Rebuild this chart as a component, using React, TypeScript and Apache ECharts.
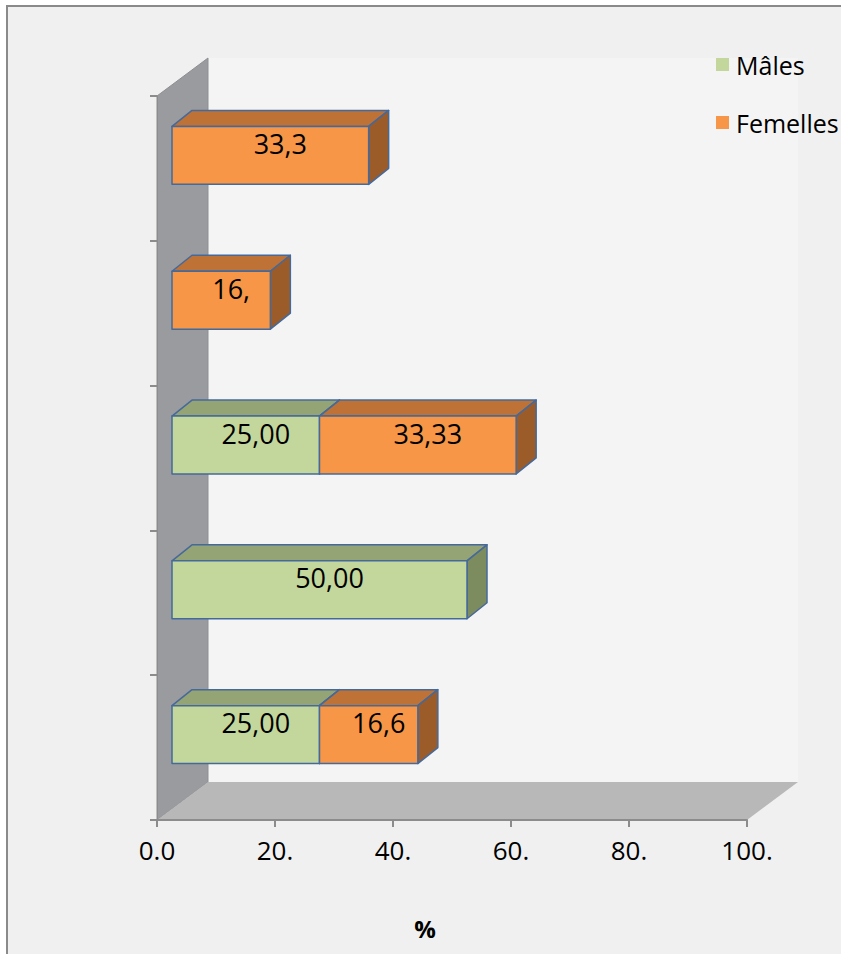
import React, { useEffect, useRef } from "react";
import * as echarts from "echarts";

// Classes d'âge (bas vers haut) et pourcentages par sexe
const categories = ["Classe 1", "Classe 2", "Classe 3", "Classe 4", "Classe 5"];
const males = [25, 50, 25, 0, 0];
const femelles = [16.67, 0, 33.33, 16.67, 33.33];
const malesLabels = ["25,00", "50,00", "25,00", "", ""];
const femellesLabels = ["16,6", "", "33,33", "16,", "33,3"];
const xTickLabels = ["0.0", "20.", "40.", "60.", "80.", "100."];

const FONT = "'Open Sans', 'Noto Sans', sans-serif";
const BG = "#f0f0f0";

// 3D look: bars sit slightly behind the front plane, the wall/floor go deeper
const BAR_SHIFT = [15, -13];
const BAR_DEPTH = [20, -16];
const WALL_DEPTH = [51, -38];

const palette = {
  males: { front: "#c3d69b", top: "#95a474", side: "#7d8c5e" },
  femelles: { front: "#f79646", top: "#bf7236", side: "#9b5c2a" },
  edge: "#45699a",
};

function boxRenderer(colors: { front: string; top: string; side: string }, labels: string[]) {
  return (params: any, api: any) => {
    const start = api.value(0);
    const end = api.value(1);
    const cat = api.value(2);
    if (end - start <= 0) return null;
    const p0 = api.coord([start, cat]);
    const p1 = api.coord([end, cat]);
    const band = api.size([0, 1])[1];
    const hh = band * 0.2;
    const x0 = p0[0] + BAR_SHIFT[0];
    const x1 = p1[0] + BAR_SHIFT[0];
    const yc = p0[1] + BAR_SHIFT[1];
    const [dx, dy] = BAR_DEPTH;
    const top = yc - hh;
    const bot = yc + hh;
    const edge = { stroke: palette.edge, lineWidth: 1.5, lineJoin: "round" };
    const children: any[] = [
      {
        type: "polygon",
        shape: { points: [[x0, top], [x0 + dx, top + dy], [x1 + dx, top + dy], [x1, top]] },
        style: { fill: colors.top, ...edge },
      },
      {
        type: "polygon",
        shape: { points: [[x1, top], [x1 + dx, top + dy], [x1 + dx, bot + dy], [x1, bot]] },
        style: { fill: colors.side, ...edge },
      },
      {
        type: "rect",
        shape: { x: x0, y: top, width: x1 - x0, height: bot - top },
        style: { fill: colors.front, ...edge },
      },
    ];
    const text = labels[params.dataIndex];
    if (text) {
      children.push({
        type: "text",
        x: (x0 + x1) / 2 + dx / 2,
        y: yc - 12,
        style: {
          text,
          fill: "#000",
          fontSize: 27,
          fontFamily: FONT,
          align: "center",
          verticalAlign: "middle",
        },
      });
    }
    return { type: "group", children };
  };
}

function wallRenderer(params: any) {
  const cs = params.coordSys;
  const { x, y, width: w, height: h } = cs;
  const [dx, dy] = WALL_DEPTH;
  return {
    type: "group",
    children: [
      {
        type: "rect",
        shape: { x: x + dx, y: y + dy, width: w, height: h },
        style: { fill: "#f4f4f4" },
      },
      {
        type: "polygon",
        shape: { points: [[x, y], [x + dx, y + dy], [x + dx, y + h + dy], [x, y + h]] },
        style: { fill: "#9a9b9f", stroke: "#8e8f93", lineWidth: 1 },
      },
      {
        type: "polygon",
        shape: { points: [[x, y + h], [x + w, y + h], [x + w + dx, y + h + dy], [x + dx, y + h + dy]] },
        style: { fill: "#b8b8b8" },
      },
    ],
  };
}

export default function App() {
  const ref = useRef<HTMLDivElement>(null);

  useEffect(() => {
    document.body.style.margin = "0";
    if (!ref.current) return;
    const chart = echarts.init(ref.current, undefined, { renderer: "svg" });

    const maleData = males.map((v, i) => [0, v, i]);
    const femData = femelles.map((v, i) => [males[i], males[i] + v, i]);

    chart.setOption({
      animation: false,
      backgroundColor: "#ffffff",
      graphic: [
        {
          type: "rect",
          z: -10,
          shape: { x: 7, y: 6, width: 2000, height: 2000 },
          style: { fill: BG, stroke: "#8a8a8a", lineWidth: 2 },
        },
      ],
      legend: {
        orient: "vertical",
        left: 711,
        top: 47,
        itemWidth: 13,
        itemHeight: 13,
        itemGap: 33,
        icon: "rect",
        data: ["Mâles", "Femelles"],
        textStyle: { fontSize: 25, fontFamily: FONT, color: "#000", padding: [0, 0, 0, 2] },
      },
      grid: { left: 157, top: 96, width: 590, height: 724 },
      xAxis: {
        type: "value",
        min: 0,
        max: 100,
        interval: 20,
        z: 10,
        axisLine: { show: true, lineStyle: { color: "#8c8c8c", width: 2 } },
        axisTick: { show: true, length: 7, lineStyle: { color: "#8c8c8c", width: 2 } },
        splitLine: { show: false },
        axisLabel: {
          color: "#000",
          fontSize: 26,
          fontFamily: FONT,
          margin: 17,
          formatter: (v: number) => xTickLabels[Math.round(v / 20)],
        },
        name: "%",
        nameLocation: "middle",
        nameGap: 96,
        nameTextStyle: {
          color: "#000",
          fontSize: 24,
          fontWeight: "bold",
          fontFamily: FONT,
          padding: [0, 54, 0, 0],
        },
      },
      yAxis: {
        type: "category",
        data: categories,
        z: 10,
        axisLine: { show: true, lineStyle: { color: "#8c8c8c", width: 1 } },
        axisTick: { show: true, length: 7, lineStyle: { color: "#8c8c8c", width: 2 } },
        axisLabel: { show: false },
        splitLine: { show: false },
      },
      series: [
        {
          type: "custom",
          name: "plan",
          z: 1,
          silent: true,
          data: [[0, 0, 0]],
          encode: { x: [0, 1], y: 2 },
          renderItem: wallRenderer,
        },
        {
          type: "custom",
          name: "Mâles",
          z: 3,
          itemStyle: { color: palette.males.front },
          data: maleData,
          encode: { x: [0, 1], y: 2 },
          renderItem: boxRenderer(palette.males, malesLabels),
        },
        {
          type: "custom",
          name: "Femelles",
          z: 4,
          itemStyle: { color: palette.femelles.front },
          data: femData,
          encode: { x: [0, 1], y: 2 },
          renderItem: boxRenderer(palette.femelles, femellesLabels),
        },
      ],
    });

    return () => chart.dispose();
  }, []);

  return <div ref={ref} style={{ width: 841, height: 954 }} />;
}
